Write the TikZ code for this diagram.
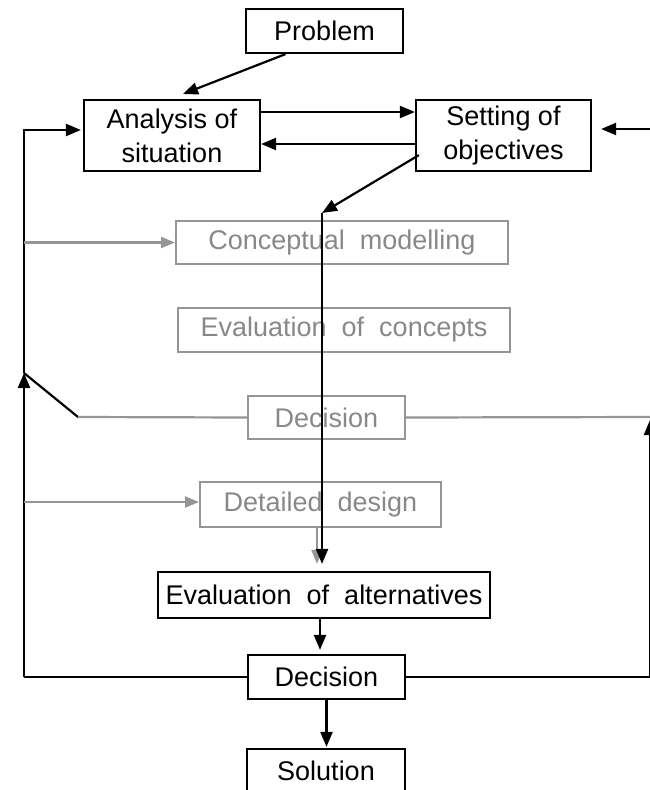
\documentclass[tikz,border=0pt]{standalone}
\usepackage{fontspec}
\setmainfont{Liberation Sans}
\usetikzlibrary{arrows.meta,calc}
\definecolor{faded}{HTML}{888888}
\definecolor{fadedline}{HTML}{959595}
\begin{document}
\begin{tikzpicture}[x=1pt,y=-1pt,
  every node/.style={font=\fontsize{27}{34}\selectfont},
  box/.style={draw=black,line width=2.2pt,inner sep=0pt,align=center},
  softbox/.style={draw=fadedline,line width=2pt,inner sep=0pt,align=center,text=faded},
  arr/.style={line width=2.2pt,-{Triangle[length=15pt,width=12pt]}},
  link/.style={line width=2.2pt},
  softarr/.style={draw=fadedline,line width=2.2pt,-{Triangle[length=14pt,width=11pt]}},
  softlink/.style={draw=fadedline,line width=2.2pt}]
\useasboundingbox (0,0) rectangle (650,790);

% main boxes
\node[box,minimum width=157pt,minimum height=44pt] (prob) at (324.5,31) {Problem};
\node[box,minimum width=176pt,minimum height=71pt] (ana) at (172,135.5) {Analysis of\\situation};
\node[box,minimum width=175pt,minimum height=71pt] (set) at (503.5,135.5) {Setting of\\objectives};
\node[softbox,minimum width=332pt,minimum height=43pt] (cm) at (342,242.5) {Conceptual\ \ modelling};
\node[softbox,minimum width=332pt,minimum height=44pt] (eoc) at (344,330) {Evaluation\ \ of\ \ concepts};
\node[softbox,minimum width=157pt,minimum height=43pt] (dec1) at (326.5,417.5) {Decision};
\node[softbox,minimum width=241pt,minimum height=45pt] (dd) at (320.5,504.5) {Detailed\ \ design};
\node[box,minimum width=332pt,minimum height=46pt] (eoa) at (324,595) {Evaluation\ \ of\ \ alternatives};
\node[box,minimum width=157pt,minimum height=44pt] (dec2) at (326.5,677) {Decision};
\node[box,minimum width=158pt,minimum height=44pt] (sol) at (326,771) {Solution};

% auxiliary points
\coordinate (anaIn) at (183,94);
\coordinate (split) at (322,213);
\coordinate (leftTop) at (24,130);
\coordinate (leftMid) at (24,373);
\coordinate (leftBot) at (24,677);
\coordinate (kink) at (78,417);
\coordinate (rightTop) at (652,129);
\coordinate (rightMid) at (650,420);
\coordinate (rightBot) at (650,677);
\coordinate (rightEdge) at (652,417);

% top part
\draw[arr] ([xshift=-39pt]prob.south) -- (anaIn);
\draw[arr] ([yshift=23.5pt]ana.east) -- ([yshift=23.5pt]set.west);
\draw[arr] ([yshift=-8.5pt]set.west) -- ([yshift=-8.5pt]ana.east);
\draw[arr,shorten >=9pt] (rightTop) -- (rightTop -| set.east);
\draw[arr] ([xshift=4pt,yshift=17pt]set.south west) -- (split);

% central path downwards
\draw[softarr,shorten >=7pt] ([xshift=-3.5pt]dd.south) -- ([xshift=-3.5pt]dd.south |- eoa.north);
\draw[arr,shorten >=7pt] (split) -- (split |- eoa.north);
\draw[arr,shorten >=4pt] ([xshift=-4pt]eoa.south) -- ([xshift=-4pt]eoa.south |- dec2.north);
\draw[arr,shorten >=1pt] (dec2.south) -- (dec2.south |- sol.north);

% feedback loops
\draw[link] (dec2.west) -- (leftBot);
\draw[arr] (leftBot) -- (leftMid);
\draw[arr,shorten >=2pt] (leftMid) -- (leftTop) -- (leftTop -| ana.west);
\draw[link] (kink) -- (leftMid);
\draw[softlink] (dec1.west) -- (kink);
\draw[softlink] (dec1.east) -- (rightEdge);
\draw[link] (dec2.east) -- (rightBot);
\draw[arr] (rightBot) -- (rightMid);

% feeds into the grey stages
\draw[softarr] (24,242.5) coordinate (cmFeed) -- (cm.west);
\draw[softarr] (24,502) coordinate (ddFeed) -- (ddFeed -| dd.west);
\end{tikzpicture}
\end{document}
